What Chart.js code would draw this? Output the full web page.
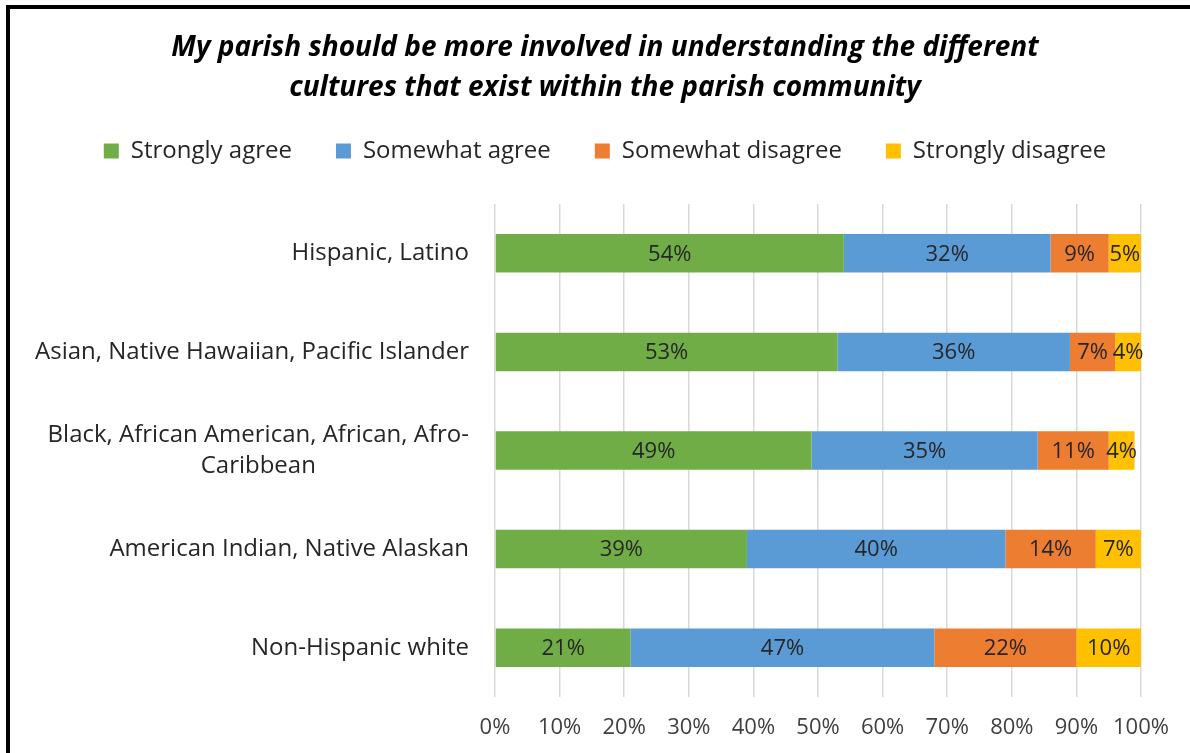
<!DOCTYPE html>
<html>
<head>
<meta charset="utf-8">
<script src="https://cdn.jsdelivr.net/npm/chart.js@4"></script>
<style>
    body { margin: 0; background: #fff; }
    #frame {
        position: absolute;
        left: 6px;
        top: 5px;
        width: 1184px;
        height: 748px;
        border-left: 4px solid #000;
        border-top: 4px solid #000;
    }
</style>
</head>
<body>
<div id="frame"><canvas id="myChart" width="1180" height="744"></canvas></div>
<script>
const categories = [
    'Hispanic, Latino',
    'Asian, Native Hawaiian, Pacific Islander',
    ['Black, African American, African, Afro-', 'Caribbean'],
    'American Indian, Native Alaskan',
    'Non-Hispanic white'
];
const stronglyAgree = [54, 53, 49, 39, 21];
const somewhatAgree = [32, 36, 35, 40, 47];
const somewhatDisagree = [9, 7, 11, 14, 22];
const stronglyDisagree = [5, 4, 4, 7, 10];
const tickLabels = ['0%', '10%', '20%', '30%', '40%', '50%', '60%', '70%', '80%', '90%', '100%'];

const FONT = '"Open Sans", sans-serif';

// extra space between the legend and the plot
const legendGap = {
    id: 'legendGap',
    beforeLayout(chart) {
        const lg = chart.legend;
        if (lg && !lg._gapAdded) {
            const fit = lg.fit;
            lg.fit = function () {
                fit.call(this);
                this.height += 31;
            };
            lg._gapAdded = true;
        }
    }
};

// draws the category names left of the bars (right aligned block, lines centered)
const categoryLabels = {
    id: 'categoryLabels',
    afterDraw(chart) {
        const ctx = chart.ctx;
        const yScale = chart.scales.y;
        const right = chart.chartArea.left - 26;
        const lineH = 31;
        ctx.save();
        ctx.font = '24px ' + FONT;
        ctx.fillStyle = '#262626';
        ctx.textBaseline = 'middle';
        categories.forEach((label, i) => {
            const y = yScale.getPixelForValue(i);
            if (Array.isArray(label)) {
                const widest = Math.max(...label.map(t => ctx.measureText(t).width));
                const cx = right - widest / 2;
                ctx.textAlign = 'center';
                label.forEach((t, j) => {
                    ctx.fillText(t, cx, y + (j - (label.length - 1) / 2) * lineH);
                });
            } else {
                ctx.textAlign = 'right';
                ctx.fillText(label, right, y);
            }
        });
        ctx.restore();
    }
};

// value labels in the middle of each segment
const segmentLabels = {
    id: 'segmentLabels',
    afterDatasetsDraw(chart) {
        const ctx = chart.ctx;
        ctx.save();
        ctx.font = '22px ' + FONT;
        ctx.fillStyle = '#262626';
        ctx.textAlign = 'center';
        ctx.textBaseline = 'middle';
        chart.data.datasets.forEach((ds, d) => {
            chart.getDatasetMeta(d).data.forEach((bar, i) => {
                const x = (bar.x + bar.base) / 2;
                ctx.fillText(ds.data[i] + '%', x, bar.y + 1);
            });
        });
        ctx.restore();
    }
};

document.addEventListener('DOMContentLoaded', function () {
    const ctx = document.getElementById('myChart');

    new Chart(ctx, {
        type: 'bar',
        data: {
            labels: categories,
            datasets: [{
                label: 'Strongly agree',
                data: stronglyAgree,
                backgroundColor: '#70AD47'
            }, {
                label: 'Somewhat agree',
                data: somewhatAgree,
                backgroundColor: '#5B9BD5'
            }, {
                label: 'Somewhat disagree',
                data: somewhatDisagree,
                backgroundColor: '#ED7D31'
            }, {
                label: 'Strongly disagree',
                data: stronglyDisagree,
                backgroundColor: '#FFC000'
            }]
        },
        plugins: [legendGap, categoryLabels, segmentLabels],
        options: {
            indexAxis: 'y',
            responsive: false,
            animation: false,
            categoryPercentage: 1,
            barPercentage: 0.39,
            layout: {
                padding: { left: 10, right: 0, top: 0, bottom: 10 }
            },
            plugins: {
                tooltip: { enabled: false },
                title: {
                    display: true,
                    text: [
                        'My parish should be more involved in understanding the different',
                        'cultures that exist within the parish community'
                    ],
                    color: '#000',
                    font: { family: FONT, size: 28, weight: 'bold', style: 'italic', lineHeight: 40 / 28 },
                    padding: { top: 19, bottom: -13 }
                },
                legend: {
                    position: 'top',
                    labels: {
                        color: '#262626',
                        font: { family: FONT, size: 24 },
                        boxWidth: 15,
                        boxHeight: 15,
                        padding: 44
                    }
                }
            },
            scales: {
                x: {
                    stacked: true,
                    min: 0,
                    max: 100,
                    grid: { color: '#D9D9D9', lineWidth: 1.5, drawTicks: false },
                    border: { display: false },
                    ticks: {
                        stepSize: 10,
                        padding: 18,
                        maxRotation: 0,
                        autoSkip: false,
                        color: '#404040',
                        font: { family: FONT, size: 22 },
                        callback: (v) => tickLabels[v / 10]
                    },
                    afterFit(scale) { scale.height = 46; }
                },
                y: {
                    stacked: true,
                    grid: { display: false },
                    border: { display: false },
                    ticks: { display: false },
                    afterFit(scale) { scale.width = 475; }
                },
                yRight: {
                    type: 'category',
                    position: 'right',
                    grid: { display: false },
                    border: { display: false },
                    ticks: { display: false },
                    afterFit(scale) { scale.width = 49; }
                }
            }
        }
    });
});
</script>
</body>
</html>
